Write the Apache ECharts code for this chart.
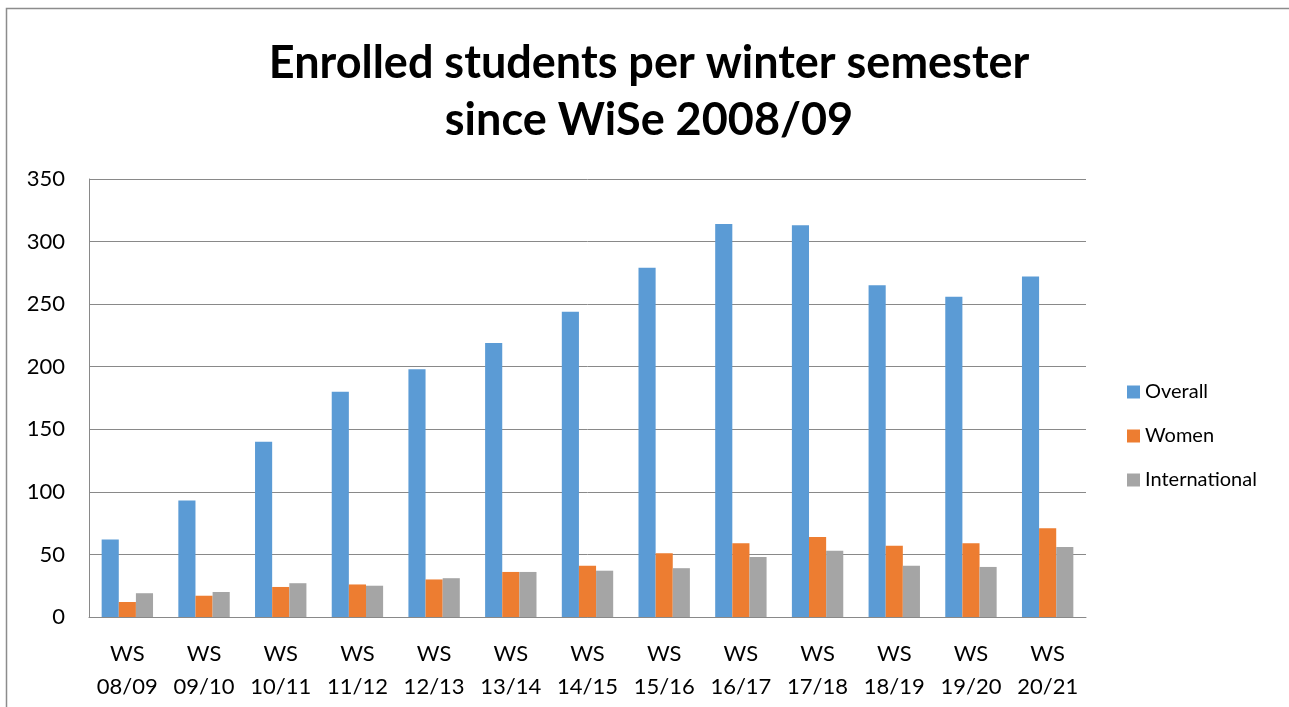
<!DOCTYPE html>
<html>
<head>
<meta charset="utf-8">
<script src="https://cdn.jsdelivr.net/npm/echarts@6/dist/echarts.min.js"></script>
<style>
  html, body { margin: 0; padding: 0; background: #fff; }
  #chart { width: 1289px; height: 707px; }
</style>
</head>
<body>
<div id="chart"></div>
<script>
const categories = ['WS\n08/09', 'WS\n09/10', 'WS\n10/11', 'WS\n11/12', 'WS\n12/13', 'WS\n13/14', 'WS\n14/15',
  'WS\n15/16', 'WS\n16/17', 'WS\n17/18', 'WS\n18/19', 'WS\n19/20', 'WS\n20/21'];
const overall = [62, 93, 140, 180, 198, 219, 244, 279, 314, 313, 265, 256, 272];
const women = [12, 17, 24, 26, 30, 36, 41, 51, 59, 64, 57, 59, 71];
const international = [19, 20, 27, 25, 31, 36, 37, 39, 48, 53, 41, 40, 56];

const font = 'Lato, "Open Sans", sans-serif';
const chart = echarts.init(document.getElementById('chart'));

const bar = (name, data, color) => ({
  name: name,
  type: 'bar',
  data: data,
  barGap: '0%',
  barCategoryGap: '33%',
  itemStyle: { color: color },
  animation: false
});

chart.setOption({
  title: {
    text: 'Enrolled students per winter semester\nsince WiSe 2008/09',
    left: 644,
    textAlign: 'center',
    top: 30,
    textStyle: { fontFamily: font, fontWeight: 'bold', fontSize: 45, lineHeight: 57, color: '#000' }
  },
  legend: {
    orient: 'vertical',
    left: 1122,
    top: 377,
    itemWidth: 13,
    itemHeight: 13,
    itemGap: 24,
    icon: 'rect',
    textStyle: { fontFamily: font, fontSize: 20, color: '#000' },
    data: ['Overall', 'Women', 'International']
  },
  grid: { left: 89, right: 203, top: 179, bottom: 90 },
  xAxis: {
    type: 'category',
    data: categories,
    axisLine: { lineStyle: { color: '#898989', width: 1 } },
    axisTick: { show: false },
    axisLabel: { interval: 0, fontFamily: font, fontSize: 22, color: '#000', lineHeight: 33, margin: 20 }
  },
  yAxis: {
    type: 'value',
    min: 0,
    max: 350,
    interval: 50,
    axisLine: { show: true, lineStyle: { color: '#898989', width: 1 } },
    axisTick: { show: false },
    splitLine: { lineStyle: { color: '#898989', width: 1 } },
    axisLabel: { fontFamily: font, fontSize: 22, color: '#000', margin: 24 }
  },
  graphic: [{
    type: 'rect',
    shape: { x: 6.5, y: 8.5, width: 1300, height: 720 },
    style: { fill: 'none', stroke: '#8c8c8c', lineWidth: 1.5 },
    silent: true
  }],
  series: [
    bar('Overall', overall, '#5B9BD5'),
    bar('Women', women, '#ED7D31'),
    bar('International', international, '#A5A5A5')
  ]
});
</script>
</body>
</html>
